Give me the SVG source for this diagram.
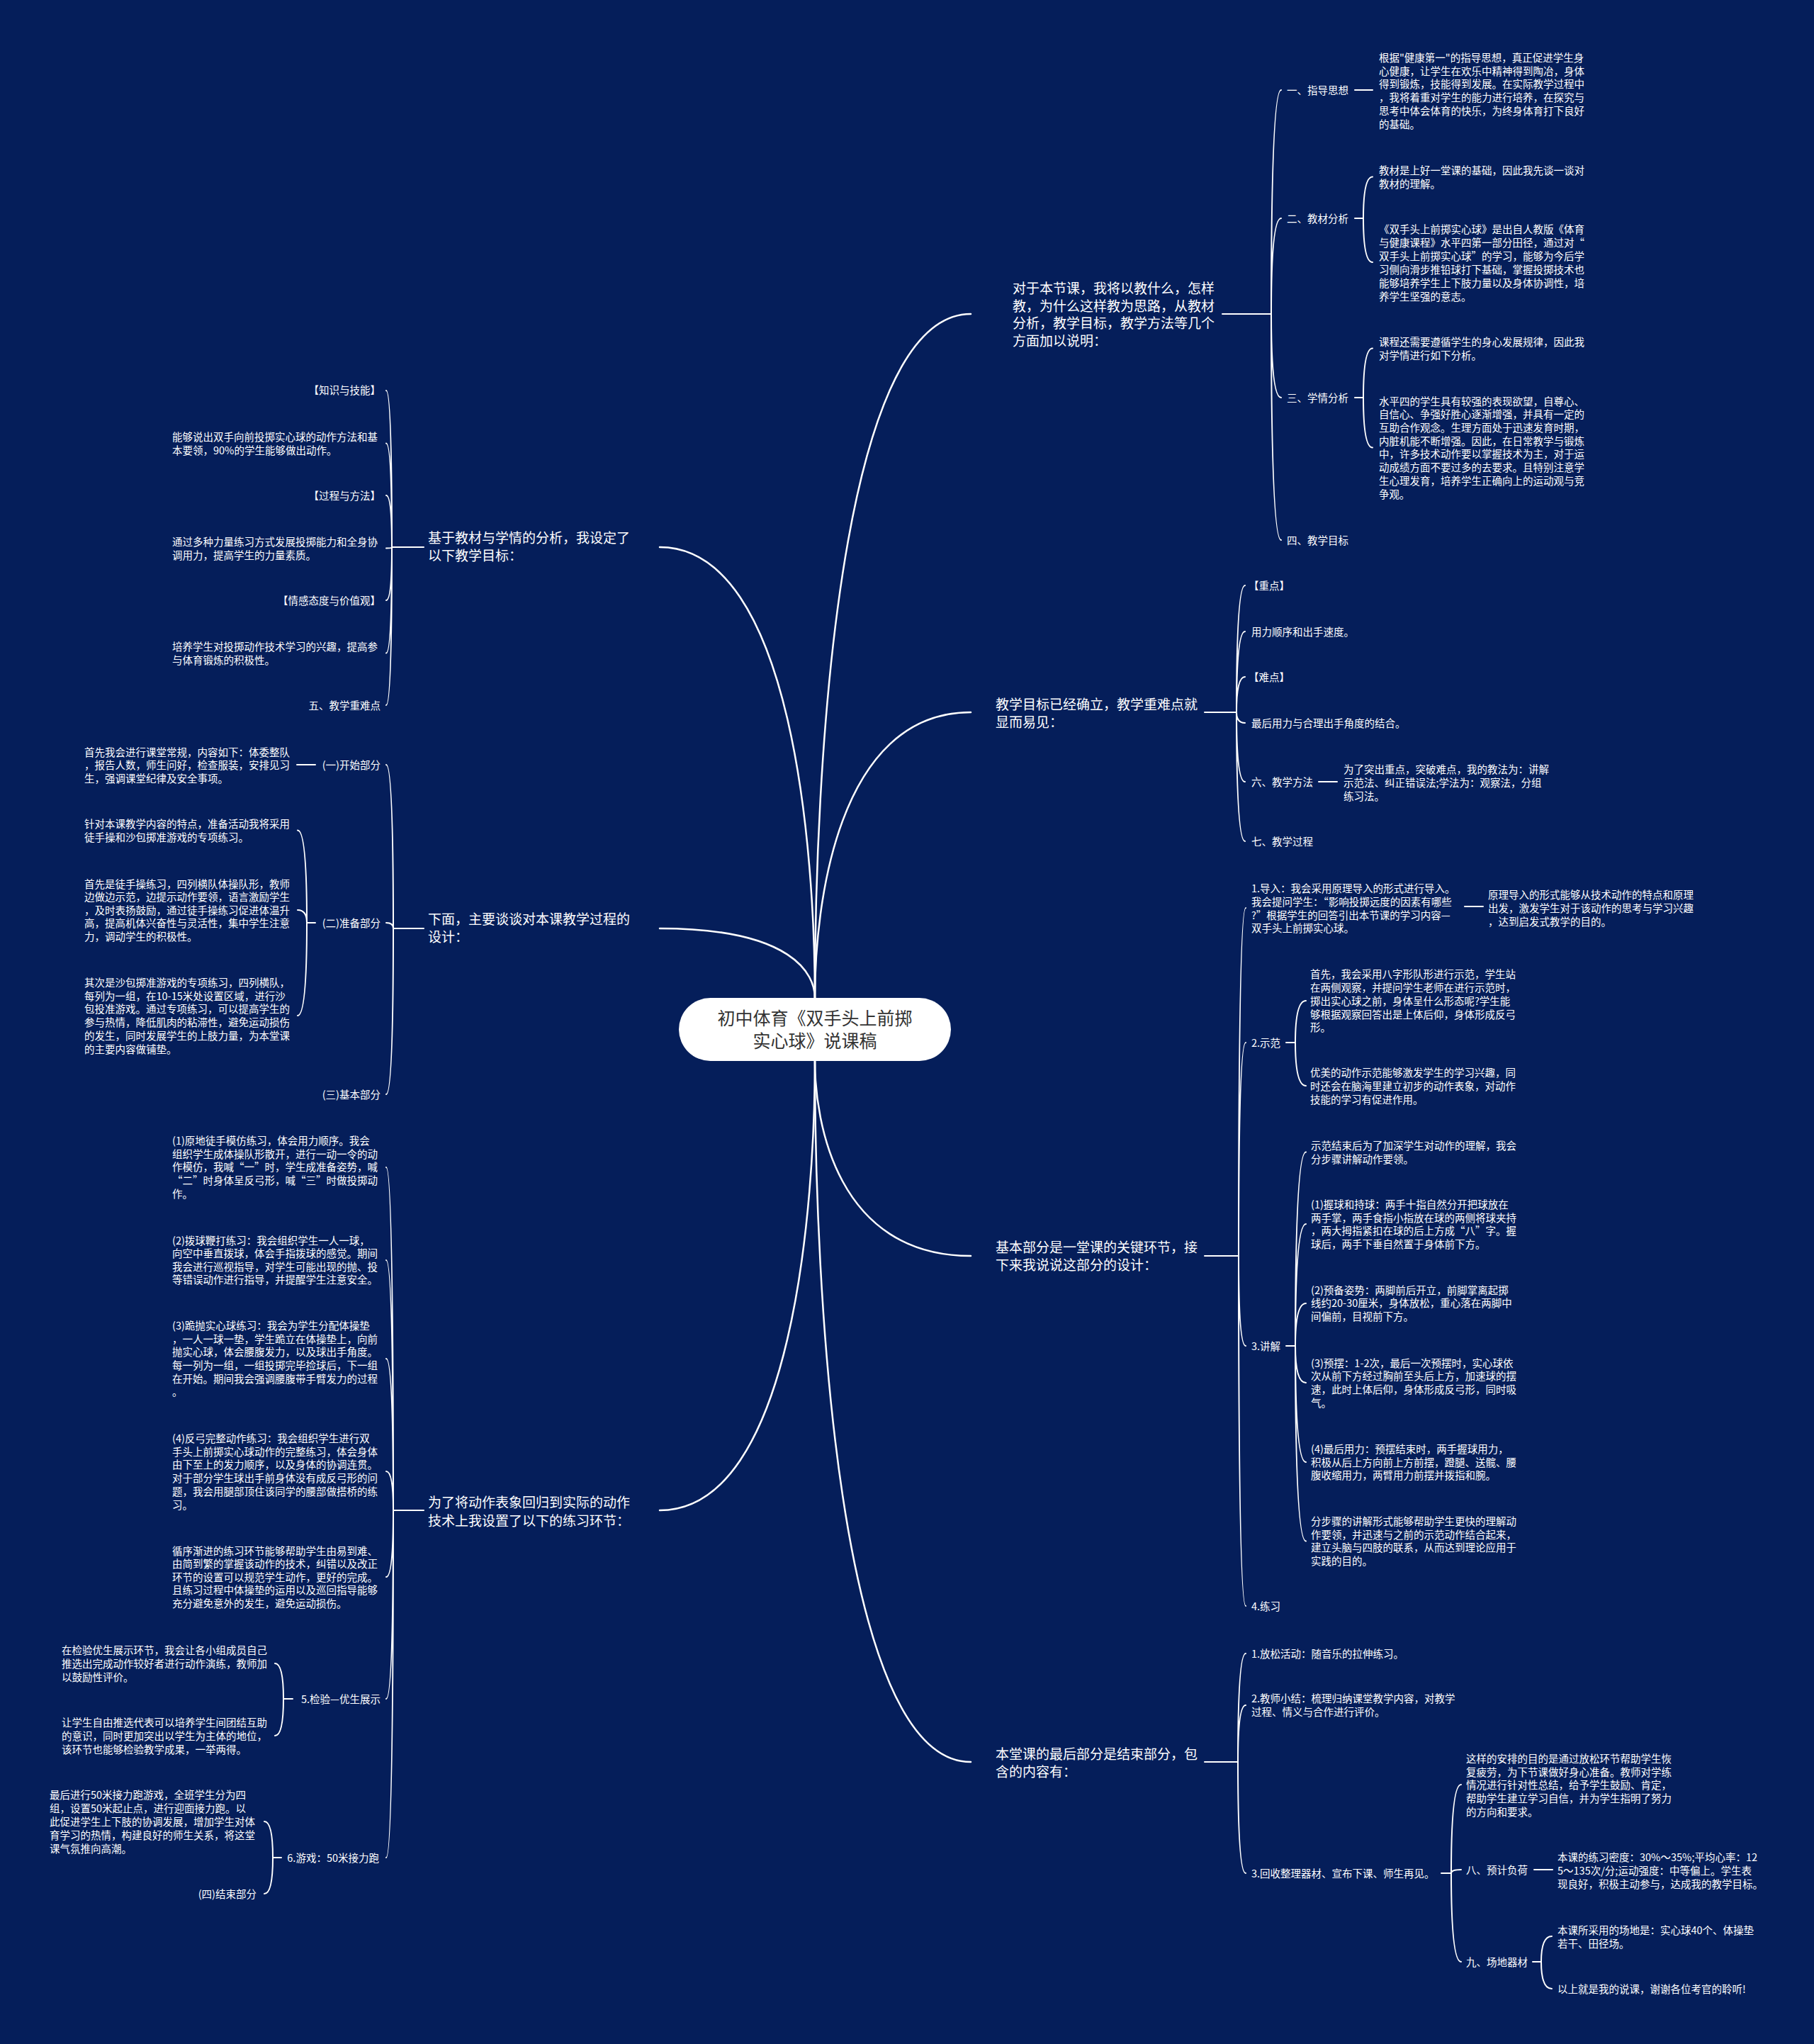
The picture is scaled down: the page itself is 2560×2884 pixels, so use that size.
<svg xmlns="http://www.w3.org/2000/svg" width="2560" height="2884" viewBox="0 0 2560 2884">
<style>
text{font-family:"Noto Sans CJK SC","Noto Sans",sans-serif;fill:#ffffff}
.s{font-size:14.5px}
.m{font-size:19px}
.c{font-size:25px;fill:#333333;text-anchor:middle}
.e{text-anchor:end}
.ln{stroke:#ffffff;stroke-width:2;fill:none;stroke-linecap:round}
.lm{stroke:#ffffff;stroke-width:2.5;fill:none;stroke-linecap:round}
</style>
<rect x="0" y="0" width="2560" height="2884" fill="#051e5a"/>
<g id="connectors">
<path class="lm" d="M1150,1408 C1150,1099 1181,443 1370,443"/>
<path class="lm" d="M1150,1408 C1150,1279 1181,1005 1370,1005"/>
<path class="lm" d="M1150,1497 C1150,1583 1181,1772 1370,1772"/>
<path class="lm" d="M1150,1497 C1150,1813 1181,2486 1370,2486"/>
<path class="lm" d="M1150,1408 C1150,1204 1119,772 931,772"/>
<path class="lm" d="M1150,1408 C1150,1375 1119,1310 931,1310"/>
<path class="lm" d="M1150,1497 C1150,1700 1119,2131 931,2131"/>
<path class="ln" d="M1725,443 H1794 M1794,443 Q1794,127 1808,127 M1794,443 Q1794,308 1808,308 M1794,443 Q1794,561 1808,561 M1794,443 Q1794,762 1808,762"/>
<path class="ln" d="M1912,127 H1937"/>
<path class="ln" d="M1912,308 H1924 M1924,308 Q1924,249.5 1937,249.5 M1924,308 Q1924,370 1937,370"/>
<path class="ln" d="M1912,561 H1924 M1924,561 Q1924,491.5 1937,491.5 M1924,561 Q1924,631.5 1937,631.5"/>
<path class="ln" d="M1700,1005 H1745 M1745,1005 Q1745,826 1757,826 M1745,1005 Q1745,891 1757,891 M1745,1005 Q1745,955 1757,955 M1745,1005 Q1745,1020 1757,1020 M1745,1005 Q1745,1103 1757,1103 M1745,1005 Q1745,1187 1757,1187"/>
<path class="ln" d="M1861,1103 H1887"/>
<path class="ln" d="M1700,1772 H1748 M1748,1772 Q1748,1281 1758,1281 M1748,1772 Q1748,1471 1758,1471 M1748,1772 Q1748,1899 1758,1899 M1748,1772 Q1748,2266 1758,2266"/>
<path class="ln" d="M2067,1279 H2093"/>
<path class="ln" d="M1815,1471 H1828 M1828,1471 Q1828,1412 1843,1412 M1828,1471 Q1828,1532 1843,1532"/>
<path class="ln" d="M1815,1899 H1828 M1828,1899 Q1828,1625.5 1843,1625.5 M1828,1899 Q1828,1727 1843,1727 M1828,1899 Q1828,1839 1843,1839 M1828,1899 Q1828,1951 1843,1951 M1828,1899 Q1828,2063 1843,2063 M1828,1899 Q1828,2174.5 1843,2174.5"/>
<path class="ln" d="M1700,2486 H1747 M1747,2486 Q1747,2333 1758,2333 M1747,2486 Q1747,2406 1758,2406 M1747,2486 Q1747,2643 1758,2643"/>
<path class="ln" d="M2034,2643 H2048 M2048,2643 Q2048,2518 2062,2518 M2048,2643 Q2048,2638 2062,2638 M2048,2643 Q2048,2768 2062,2768"/>
<path class="ln" d="M2165,2638 H2191"/>
<path class="ln" d="M2163,2768 H2175 M2175,2768 Q2175,2732 2190,2732 M2175,2768 Q2175,2806 2190,2806"/>
<path class="ln" d="M598,772 H553 M553,772 Q553,551 545,551 M553,772 Q553,625.5 545,625.5 M553,772 Q553,699 545,699 M553,772 Q553,773.5 545,773.5 M553,772 Q553,847 545,847 M553,772 Q553,921.5 545,921.5 M553,772 Q553,995 545,995"/>
<path class="ln" d="M598,1310 H555 M555,1310 Q555,1079 545,1079 M555,1310 Q555,1302 545,1302 M555,1310 Q555,1544 545,1544"/>
<path class="ln" d="M445,1079 H419"/>
<path class="ln" d="M445,1302 H433 M433,1302 Q433,1171.5 420,1171.5 M433,1302 Q433,1284 420,1284 M433,1302 Q433,1433 420,1433"/>
<path class="ln" d="M598,2131 H555 M555,2131 Q555,1647 545,1647 M555,2131 Q555,1778 545,1778 M555,2131 Q555,1917 545,1917 M555,2131 Q555,2076 545,2076 M555,2131 Q555,2225 545,2225 M555,2131 Q555,2397 545,2397 M555,2131 Q555,2621 545,2621"/>
<path class="ln" d="M413,2397 H400 M400,2397 Q400,2347 388,2347 M400,2397 Q400,2449 388,2449"/>
<path class="ln" d="M397,2621 H385 M385,2621 Q385,2570 373,2570 M385,2621 Q385,2672 373,2672"/>
</g>
<g id="root">
<rect x="958" y="1408" width="384" height="89" rx="44.5" fill="#ffffff"/>
<text class="c"><tspan x="1150" y="1445.5">初中体育《双手头上前掷</tspan><tspan x="1150" y="1477.5">实心球》说课稿</tspan></text>
</g>
<g id="r1">
<text class="m"><tspan x="1429" y="414">对于本节课，我将以教什么，怎样</tspan><tspan x="1429" y="438.5">教，为什么这样教为思路，从教材</tspan><tspan x="1429" y="463">分析，教学目标，教学方法等几个</tspan><tspan x="1429" y="487.5">方面加以说明：</tspan></text>
</g>
<g id="r1-1">
<text class="s" x="1816" y="132.5">一、指导思想</text>
<text class="s"><tspan x="1946" y="86.5">根据"健康第一"的指导思想，真正促进学生身</tspan><tspan x="1946" y="105.5">心健康，让学生在欢乐中精神得到陶冶，身体</tspan><tspan x="1946" y="124">得到锻炼，技能得到发展。在实际教学过程中</tspan><tspan x="1946" y="143">，我将着重对学生的能力进行培养，在探究与</tspan><tspan x="1946" y="162">思考中体会体育的快乐，为终身体育打下良好</tspan><tspan x="1946" y="181">的基础。</tspan></text>
</g>
<g id="r1-2">
<text class="s" x="1816" y="313.5">二、教材分析</text>
<text class="s"><tspan x="1946" y="245.5">教材是上好一堂课的基础，因此我先谈一谈对</tspan><tspan x="1946" y="264.5">教材的理解。</tspan></text>
<text class="s"><tspan x="1946" y="328.5">《双手头上前掷实心球》是出自人教版《体育</tspan><tspan x="1946" y="347.5">与健康课程》水平四第一部分田径，通过对“</tspan><tspan x="1946" y="366.5">双手头上前掷实心球”的学习，能够为今后学</tspan><tspan x="1946" y="385.5">习侧向滑步推铅球打下基础，掌握投掷技术也</tspan><tspan x="1946" y="404.5">能够培养学生上下肢力量以及身体协调性，培</tspan><tspan x="1946" y="423.5">养学生坚强的意志。</tspan></text>
</g>
<g id="r1-3">
<text class="s" x="1816" y="566.5">三、学情分析</text>
<text class="s"><tspan x="1946" y="487.5">课程还需要遵循学生的身心发展规律，因此我</tspan><tspan x="1946" y="506.5">对学情进行如下分析。</tspan></text>
<text class="s"><tspan x="1946" y="571.5">水平四的学生具有较强的表现欲望，自尊心、</tspan><tspan x="1946" y="590">自信心、争强好胜心逐渐增强，并具有一定的</tspan><tspan x="1946" y="609">互助合作观念。生理方面处于迅速发育时期，</tspan><tspan x="1946" y="627.5">内脏机能不断增强。因此，在日常教学与锻炼</tspan><tspan x="1946" y="646">中，许多技术动作要以掌握技术为主，对于运</tspan><tspan x="1946" y="665">动成绩方面不要过多的去要求。且特别注意学</tspan><tspan x="1946" y="683.5">生心理发育，培养学生正确向上的运动观与竞</tspan><tspan x="1946" y="702.5">争观。</tspan></text>
</g>
<g id="r1-4">
<text class="s" x="1816" y="767.5">四、教学目标</text>
</g>
<g id="r2">
<text class="m"><tspan x="1405" y="1001">教学目标已经确立，教学重难点就</tspan><tspan x="1405" y="1026">显而易见：</tspan></text>
</g>
<g id="r2-children">
<text class="s" x="1762" y="831.5">【重点】</text>
<text class="s" x="1766" y="896.5">用力顺序和出手速度。</text>
<text class="s" x="1762" y="960.5">【难点】</text>
<text class="s" x="1766" y="1025.5">最后用力与合理出手角度的结合。</text>
<text class="s" x="1766" y="1108.5">六、教学方法</text>
<text class="s"><tspan x="1896" y="1090.5">为了突出重点，突破难点，我的教法为：讲解</tspan><tspan x="1896" y="1109.5">示范法、纠正错误法;学法为：观察法，分组</tspan><tspan x="1896" y="1128.5">练习法。</tspan></text>
<text class="s" x="1766" y="1192.5">七、教学过程</text>
</g>
<g id="r3">
<text class="m"><tspan x="1405" y="1767">基本部分是一堂课的关键环节，接</tspan><tspan x="1405" y="1792">下来我说说这部分的设计：</tspan></text>
</g>
<g id="r3-1">
<text class="s"><tspan x="1766" y="1258.5">1.导入：我会采用原理导入的形式进行导入。</tspan><tspan x="1766" y="1277.5">我会提问学生：“影响投掷远度的因素有哪些</tspan><tspan x="1766" y="1296.5">?”根据学生的回答引出本节课的学习内容—</tspan><tspan x="1766" y="1315">双手头上前掷实心球。</tspan></text>
<text class="s"><tspan x="2100" y="1267.5">原理导入的形式能够从技术动作的特点和原理</tspan><tspan x="2100" y="1286.5">出发，激发学生对于该动作的思考与学习兴趣</tspan><tspan x="2100" y="1305.5">，达到启发式教学的目的。</tspan></text>
</g>
<g id="r3-2">
<text class="s" x="1766" y="1476.5">2.示范</text>
<text class="s"><tspan x="1849" y="1379.5">首先，我会采用八字形队形进行示范，学生站</tspan><tspan x="1849" y="1398.5">在两侧观察，并提问学生老师在进行示范时，</tspan><tspan x="1849" y="1417.5">掷出实心球之前，身体呈什么形态呢?学生能</tspan><tspan x="1849" y="1436.5">够根据观察回答出是上体后仰，身体形成反弓</tspan><tspan x="1849" y="1455">形。</tspan></text>
<text class="s"><tspan x="1849" y="1518.5">优美的动作示范能够激发学生的学习兴趣，同</tspan><tspan x="1849" y="1537.5">时还会在脑海里建立初步的动作表象，对动作</tspan><tspan x="1849" y="1556.5">技能的学习有促进作用。</tspan></text>
</g>
<g id="r3-3">
<text class="s" x="1766" y="1904.5">3.讲解</text>
<text class="s"><tspan x="1850" y="1622">示范结束后为了加深学生对动作的理解，我会</tspan><tspan x="1850" y="1640.5">分步骤讲解动作要领。</tspan></text>
<text class="s"><tspan x="1850" y="1704.5">(1)握球和持球：两手十指自然分开把球放在</tspan><tspan x="1850" y="1723.5">两手掌，两手食指小指放在球的两侧将球夹持</tspan><tspan x="1850" y="1742">，两大拇指紧扣在球的后上方成“八”字。握</tspan><tspan x="1850" y="1761">球后，两手下垂自然置于身体前下方。</tspan></text>
<text class="s"><tspan x="1850" y="1825.5">(2)预备姿势：两脚前后开立，前脚掌离起掷</tspan><tspan x="1850" y="1844">线约20-30厘米，身体放松，重心落在两脚中</tspan><tspan x="1850" y="1863">间偏前，目视前下方。</tspan></text>
<text class="s"><tspan x="1850" y="1928.5">(3)预摆：1-2次，最后一次预摆时，实心球依</tspan><tspan x="1850" y="1947">次从前下方经过胸前至头后上方，加速球的摆</tspan><tspan x="1850" y="1966">速，此时上体后仰，身体形成反弓形，同时吸</tspan><tspan x="1850" y="1984.5">气。</tspan></text>
<text class="s"><tspan x="1850" y="2050">(4)最后用力：预摆结束时，两手握球用力，</tspan><tspan x="1850" y="2068.5">积极从后上方向前上方前摆，蹬腿、送髋、腰</tspan><tspan x="1850" y="2087">腹收缩用力，两臂用力前摆并拨指和腕。</tspan></text>
<text class="s"><tspan x="1850" y="2151.5">分步骤的讲解形式能够帮助学生更快的理解动</tspan><tspan x="1850" y="2170.5">作要领，并迅速与之前的示范动作结合起来，</tspan><tspan x="1850" y="2189">建立头脑与四肢的联系，从而达到理论应用于</tspan><tspan x="1850" y="2208">实践的目的。</tspan></text>
</g>
<g id="r3-4">
<text class="s" x="1766" y="2271.5">4.练习</text>
</g>
<g id="r4">
<text class="m"><tspan x="1405" y="2482">本堂课的最后部分是结束部分，包</tspan><tspan x="1405" y="2507">含的内容有：</tspan></text>
</g>
<g id="r4-children">
<text class="s" x="1766" y="2338.5">1.放松活动：随音乐的拉伸练习。</text>
<text class="s"><tspan x="1766" y="2402">2.教师小结：梳理归纳课堂教学内容，对教学</tspan><tspan x="1766" y="2421">过程、情义与合作进行评价。</tspan></text>
<text class="s" x="1766" y="2649">3.回收整理器材、宣布下课、师生再见。</text>
<text class="s"><tspan x="2069" y="2486.5">这样的安排的目的是通过放松环节帮助学生恢</tspan><tspan x="2069" y="2505.5">复疲劳，为下节课做好身心准备。教师对学练</tspan><tspan x="2069" y="2524">情况进行针对性总结，给予学生鼓励、肯定，</tspan><tspan x="2069" y="2543">帮助学生建立学习自信，并为学生指明了努力</tspan><tspan x="2069" y="2561.5">的方向和要求。</tspan></text>
<text class="s" x="2069" y="2643.5">八、预计负荷</text>
<text class="s"><tspan x="2198" y="2625.5">本课的练习密度：30%～35%;平均心率：12</tspan><tspan x="2198" y="2644.5">5～135次/分;运动强度：中等偏上。学生表</tspan><tspan x="2198" y="2663.5">现良好，积极主动参与，达成我的教学目标。</tspan></text>
<text class="s" x="2069" y="2773.5">九、场地器材</text>
<text class="s"><tspan x="2198" y="2728.5">本课所采用的场地是：实心球40个、体操垫</tspan><tspan x="2198" y="2747.5">若干、田径场。</tspan></text>
<text class="s" x="2198" y="2811.5">以上就是我的说课，谢谢各位考官的聆听!</text>
</g>
<g id="l1">
<text class="m"><tspan x="604" y="766">基于教材与学情的分析，我设定了</tspan><tspan x="604" y="791">以下教学目标：</tspan></text>
</g>
<g id="l1-children">
<text class="s e" x="537" y="556">【知识与技能】</text>
<text class="s"><tspan x="243" y="621.5">能够说出双手向前投掷实心球的动作方法和基</tspan><tspan x="243" y="640.5">本要领，90%的学生能够做出动作。</tspan></text>
<text class="s e" x="537" y="704.5">【过程与方法】</text>
<text class="s"><tspan x="243" y="769.5">通过多种力量练习方式发展投掷能力和全身协</tspan><tspan x="243" y="788.5">调用力，提高学生的力量素质。</tspan></text>
<text class="s e" x="537" y="852.5">【情感态度与价值观】</text>
<text class="s"><tspan x="243" y="917.5">培养学生对投掷动作技术学习的兴趣，提高参</tspan><tspan x="243" y="936.5">与体育锻炼的积极性。</tspan></text>
<text class="s e" x="537" y="1000.5">五、教学重难点</text>
</g>
<g id="l2">
<text class="m"><tspan x="604" y="1304">下面，主要谈谈对本课教学过程的</tspan><tspan x="604" y="1329">设计：</tspan></text>
</g>
<g id="l2-children">
<text class="s e" x="537" y="1084.5">(一)开始部分</text>
<text class="s"><tspan x="119" y="1066.5">首先我会进行课堂常规，内容如下：体委整队</tspan><tspan x="119" y="1084.5">，报告人数，师生问好，检查服装，安排见习</tspan><tspan x="119" y="1103.5">生，强调课堂纪律及安全事项。</tspan></text>
<text class="s e" x="537" y="1307.5">(二)准备部分</text>
<text class="s"><tspan x="119" y="1167.5">针对本课教学内容的特点，准备活动我将采用</tspan><tspan x="119" y="1186.5">徒手操和沙包掷准游戏的专项练习。</tspan></text>
<text class="s"><tspan x="119" y="1252.5">首先是徒手操练习，四列横队体操队形，教师</tspan><tspan x="119" y="1271">边做边示范，边提示动作要领，语言激励学生</tspan><tspan x="119" y="1289.5">，及时表扬鼓励，通过徒手操练习促进体温升</tspan><tspan x="119" y="1308">高，提高机体兴奋性与灵活性，集中学生注意</tspan><tspan x="119" y="1326.5">力，调动学生的积极性。</tspan></text>
<text class="s"><tspan x="119" y="1391.5">其次是沙包掷准游戏的专项练习，四列横队，</tspan><tspan x="119" y="1410.5">每列为一组，在10-15米处设置区域，进行沙</tspan><tspan x="119" y="1429">包投准游戏。通过专项练习，可以提高学生的</tspan><tspan x="119" y="1447.5">参与热情，降低肌肉的粘滞性，避免运动损伤</tspan><tspan x="119" y="1466.5">的发生，同时发展学生的上肢力量，为本堂课</tspan><tspan x="119" y="1485.5">的主要内容做铺垫。</tspan></text>
<text class="s e" x="537" y="1549.5">(三)基本部分</text>
</g>
<g id="l3">
<text class="m"><tspan x="604" y="2127">为了将动作表象回归到实际的动作</tspan><tspan x="604" y="2153">技术上我设置了以下的练习环节：</tspan></text>
</g>
<g id="l3-children">
<text class="s"><tspan x="243" y="1615">(1)原地徒手模仿练习，体会用力顺序。我会</tspan><tspan x="243" y="1633.5">组织学生成体操队形散开，进行一动一令的动</tspan><tspan x="243" y="1652">作模仿，我喊“一”时，学生成准备姿势，喊</tspan><tspan x="243" y="1671">“二”时身体呈反弓形，喊“三”时做投掷动</tspan><tspan x="243" y="1689.5">作。</tspan></text>
<text class="s"><tspan x="243" y="1755.5">(2)拨球鞭打练习：我会组织学生一人一球，</tspan><tspan x="243" y="1774">向空中垂直拨球，体会手指拨球的感觉。期间</tspan><tspan x="243" y="1792.5">我会进行巡视指导，对学生可能出现的抛、投</tspan><tspan x="243" y="1811">等错误动作进行指导，并提醒学生注意安全。</tspan></text>
<text class="s"><tspan x="243" y="1875.5">(3)跪抛实心球练习：我会为学生分配体操垫</tspan><tspan x="243" y="1894.5">，一人一球一垫，学生跪立在体操垫上，向前</tspan><tspan x="243" y="1913">抛实心球，体会腰腹发力，以及球出手角度。</tspan><tspan x="243" y="1932">每一列为一组，一组投掷完毕捡球后，下一组</tspan><tspan x="243" y="1950.5">在开始。期间我会强调腰腹带手臂发力的过程</tspan><tspan x="243" y="1969">。</tspan></text>
<text class="s"><tspan x="243" y="2034.5">(4)反弓完整动作练习：我会组织学生进行双</tspan><tspan x="243" y="2053.5">手头上前掷实心球动作的完整练习，体会身体</tspan><tspan x="243" y="2072">由下至上的发力顺序，以及身体的协调连贯。</tspan><tspan x="243" y="2091">对于部分学生球出手前身体没有成反弓形的问</tspan><tspan x="243" y="2110">题，我会用腿部顶住该同学的腰部做搭桥的练</tspan><tspan x="243" y="2128.5">习。</tspan></text>
<text class="s"><tspan x="243" y="2193.5">循序渐进的练习环节能够帮助学生由易到难、</tspan><tspan x="243" y="2212">由简到繁的掌握该动作的技术，纠错以及改正</tspan><tspan x="243" y="2230.5">环节的设置可以规范学生动作，更好的完成。</tspan><tspan x="243" y="2249">且练习过程中体操垫的运用以及巡回指导能够</tspan><tspan x="243" y="2267.5">充分避免意外的发生，避免运动损伤。</tspan></text>
<text class="s e" x="537" y="2402.5">5.检验—优生展示</text>
<text class="s"><tspan x="87" y="2333.5">在检验优生展示环节，我会让各小组成员自己</tspan><tspan x="87" y="2352.5">推选出完成动作较好者进行动作演练，教师加</tspan><tspan x="87" y="2371.5">以鼓励性评价。</tspan></text>
<text class="s"><tspan x="87" y="2435.5">让学生自由推选代表可以培养学生间团结互助</tspan><tspan x="87" y="2454.5">的意识，同时更加突出以学生为主体的地位，</tspan><tspan x="87" y="2473.5">该环节也能够检验教学成果，一举两得。</tspan></text>
<text class="s e" x="535" y="2626.5">6.游戏：50米接力跑</text>
<text class="s"><tspan x="70" y="2537.5">最后进行50米接力跑游戏，全班学生分为四</tspan><tspan x="70" y="2556.5">组，设置50米起止点，进行迎面接力跑。以</tspan><tspan x="70" y="2575.5">此促进学生上下肢的协调发展，增加学生对体</tspan><tspan x="70" y="2594.5">育学习的热情，构建良好的师生关系，将这堂</tspan><tspan x="70" y="2613.5">课气氛推向高潮。</tspan></text>
<text class="s e" x="362" y="2677.5">(四)结束部分</text>
</g>
</svg>
